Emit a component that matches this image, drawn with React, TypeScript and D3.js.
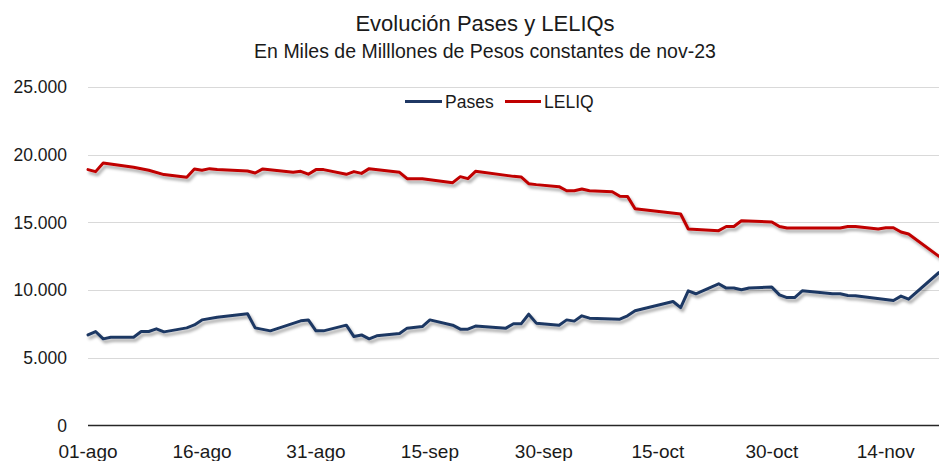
import React from "react";
import * as d3 from "d3";

const leliqDates = [
  "2023-08-01","2023-08-02","2023-08-03","2023-08-07","2023-08-09","2023-08-11","2023-08-14","2023-08-15",
  "2023-08-16","2023-08-17","2023-08-18","2023-08-22","2023-08-23","2023-08-24","2023-08-28","2023-08-29",
  "2023-08-30","2023-08-31","2023-09-01","2023-09-04","2023-09-05","2023-09-06","2023-09-07","2023-09-11",
  "2023-09-12","2023-09-14","2023-09-18","2023-09-19","2023-09-20","2023-09-21","2023-09-26","2023-09-27",
  "2023-09-28","2023-09-29","2023-10-02","2023-10-03","2023-10-04","2023-10-05","2023-10-06","2023-10-09",
  "2023-10-10","2023-10-11","2023-10-12","2023-10-18","2023-10-19","2023-10-23","2023-10-24","2023-10-25",
  "2023-10-26","2023-10-30","2023-10-31","2023-11-01","2023-11-08","2023-11-09","2023-11-10","2023-11-13",
  "2023-11-14","2023-11-15","2023-11-16","2023-11-17","2023-11-21",
];
const leliqValues = [
  18900,18750,19390,19070,18850,18530,18330,18950,
  18850,18970,18900,18800,18650,18950,18700,18770,
  18560,18900,18900,18550,18750,18620,18970,18700,
  18230,18230,17935,18380,18230,18770,18400,18360,
  17860,17790,17640,17340,17340,17470,17340,17260,
  16930,16920,16010,15620,14510,14390,14700,14700,
  15125,15030,14700,14590,14590,14700,14700,14510,
  14610,14610,14290,14140,12490,
];

const pasesDates = [
  "2023-08-01","2023-08-02","2023-08-03","2023-08-04","2023-08-07","2023-08-08","2023-08-09","2023-08-10",
  "2023-08-11","2023-08-14","2023-08-15","2023-08-16","2023-08-18","2023-08-22","2023-08-23","2023-08-25",
  "2023-08-29","2023-08-30","2023-08-31","2023-09-01","2023-09-04","2023-09-05","2023-09-06","2023-09-07",
  "2023-09-08","2023-09-11","2023-09-12","2023-09-14","2023-09-15","2023-09-18","2023-09-19","2023-09-20",
  "2023-09-21","2023-09-25","2023-09-26","2023-09-27","2023-09-28","2023-09-29","2023-10-02","2023-10-03",
  "2023-10-04","2023-10-05","2023-10-06","2023-10-10","2023-10-11","2023-10-12","2023-10-17","2023-10-18",
  "2023-10-19","2023-10-20","2023-10-23","2023-10-24","2023-10-25","2023-10-26","2023-10-27","2023-10-30",
  "2023-10-31","2023-11-01","2023-11-02","2023-11-03","2023-11-07","2023-11-08","2023-11-09","2023-11-10",
  "2023-11-15","2023-11-16","2023-11-17","2023-11-21",
];
const pasesValues = [
  6690,6940,6400,6520,6520,6940,6940,7140,
  6915,7210,7430,7800,8000,8250,7210,6990,
  7730,7800,6990,6990,7410,6570,6690,6400,
  6620,6790,7190,7310,7800,7410,7115,7115,
  7340,7190,7510,7510,8220,7560,7410,7800,
  7710,8100,7930,7855,8100,8470,9160,8710,
  9950,9730,10465,10150,10150,10020,10150,10220,
  9650,9450,9450,9950,9730,9730,9600,9580,
  9230,9555,9330,11300,
];

const yTicks = [0, 5000, 10000, 15000, 20000, 25000];
const xTickDates = ["2023-08-01","2023-08-16","2023-08-31","2023-09-15","2023-09-30","2023-10-15","2023-10-30","2023-11-14"];
const monthAbbr = ["ene","feb","mar","abr","may","jun","jul","ago","sep","oct","nov","dic"];
const domainDates = ["2023-08-01", "2023-11-21"];

const seriesNames = ["Pases", "LELIQ"];
const seriesColors = ["#1F3864", "#C00000"];

const W = 939;
const H = 461;
const FONT = "'Liberation Sans', Arial, sans-serif";

export default function App() {
  const parse = d3.utcParse("%Y-%m-%d");
  const x = d3
    .scaleUtc()
    .domain(domainDates.map((d) => parse(d) as Date))
    .range([88, 939]);
  const y = d3.scaleLinear().domain([0, 25000]).range([425.5, 87]);
  const loc = d3.formatLocale({ decimal: ",", thousands: ".", grouping: [3], currency: ["$", ""] });
  const fmt = loc.format(",.0f");
  const fmtDate = (d: Date) => `${String(d.getUTCDate()).padStart(2, "0")}-${monthAbbr[d.getUTCMonth()]}`;

  const line = d3
    .line<[Date, number]>()
    .x((d) => x(d[0]))
    .y((d) => y(d[1]));

  const pases: [Date, number][] = pasesDates.map((d, i) => [parse(d) as Date, pasesValues[i]]);
  const leliq: [Date, number][] = leliqDates.map((d, i) => [parse(d) as Date, leliqValues[i]]);
  const series = [pases, leliq];

  const [x0, x1] = x.range();

  return (
    <svg
      width={W}
      height={H}
      style={{ position: "absolute", left: 0, top: 0, background: "#fff" }}
      fontFamily={FONT}
    >
      <defs>
        <filter id="shadow" x="-5%" y="-30%" width="110%" height="160%">
          <feDropShadow dx="2" dy="3" stdDeviation="1.6" floodColor="#000" floodOpacity="0.35" />
        </filter>
        <clipPath id="plotclip">
          <rect x={x0 - 2} y={60} width={x1 - x0 + 4} height={380} />
        </clipPath>
      </defs>
      <rect x={0} y={0} width={W} height={H} fill="#fff" />

      <text x={485} y={31} textAnchor="middle" fontSize={22} fill="#1a1a1a">
        Evolución Pases y LELIQs
      </text>
      <text x={485} y={58} textAnchor="middle" fontSize={19.5} fill="#1a1a1a">
        En Miles de Milllones de Pesos constantes de nov-23
      </text>

      {yTicks.map((t) => (
        <g key={t}>
          {t > 0 && (
            <line x1={x0} x2={x1} y1={Math.round(y(t)) + 0.5} y2={Math.round(y(t)) + 0.5} stroke="#D9D9D9" strokeWidth={1} />
          )}
          <text x={67} y={y(t)} dy="0.36em" textAnchor="end" fontSize={17.5} fill="#1a1a1a">
            {fmt(t)}
          </text>
        </g>
      ))}

      {xTickDates.map((s) => {
        const d = parse(s) as Date;
        return (
          <text key={s} x={x(d)} y={458} textAnchor="middle" fontSize={19} fill="#1a1a1a">
            {fmtDate(d)}
          </text>
        );
      })}

      <g clipPath="url(#plotclip)">
        {series.map((s, i) => (
          <path
            key={seriesNames[i]}
            d={line(s) || ""}
            fill="none"
            stroke={seriesColors[i]}
            strokeWidth={3}
            strokeLinejoin="round"
            strokeLinecap="round"
            filter="url(#shadow)"
          />
        ))}
      </g>

      <line x1={x0} x2={x1} y1={y(0)} y2={y(0)} stroke="#262626" strokeWidth={1.4} />

      <g>
        <line x1={405} x2={442} y1={101.5} y2={101.5} stroke={seriesColors[0]} strokeWidth={3} />
        <text x={445} y={107.5} fontSize={17.5} fill="#1a1a1a">{seriesNames[0]}</text>
        <line x1={505} x2={541} y1={101.5} y2={101.5} stroke={seriesColors[1]} strokeWidth={3} />
        <text x={544} y={107.5} fontSize={17.5} fill="#1a1a1a">{seriesNames[1]}</text>
      </g>
    </svg>
  );
}
